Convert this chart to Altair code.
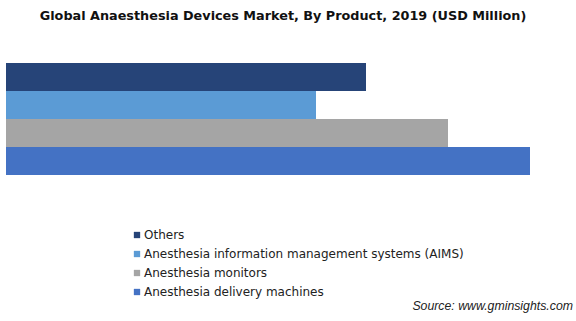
import altair as alt
import pandas as pd

title = "Global Anaesthesia Devices Market, By Product, 2019 (USD Million)"
source = "Source: www.gminsights.com"
products = [
    "Others",
    "Anesthesia information management systems (AIMS)",
    "Anesthesia monitors",
    "Anesthesia delivery machines",
]
values = [360, 310, 442, 524]
colors = ["#264478", "#5B9BD5", "#A5A5A5", "#4472C4"]

df = pd.DataFrame({"product": products, "value": values})

bars = alt.Chart(df).mark_bar().encode(
    y=alt.Y("product:N", sort=products, axis=None,
            scale=alt.Scale(paddingInner=0, paddingOuter=0)),
    x=alt.X("value:Q", axis=None, scale=alt.Scale(domain=[0, 560], nice=False)),
    color=alt.Color(
        "product:N",
        scale=alt.Scale(domain=products, range=colors),
        legend=alt.Legend(
            title=None,
            orient="none",
            legendX=125,
            legendY=166,
            symbolType="square",
            symbolSize=40,
            symbolStrokeWidth=0,
            labelFont="DejaVu Sans",
            labelFontSize=12,
            labelColor="#222222",
            labelOffset=1,
            labelLimit=500,
            rowPadding=7,
            padding=0,
        ),
    ),
)

src = alt.Chart(pd.DataFrame({"t": [source]})).mark_text(
    align="right", baseline="middle", font="Liberation Sans",
    fontStyle="italic", fontSize=12.3, color="#222222"
).encode(text="t:N", x=alt.value(567), y=alt.value(243))

chart = alt.layer(bars, src).properties(
    width=560,
    height=112,
    autosize=alt.AutoSizeParams(type="none"),
    padding={"left": 6, "top": 63, "right": 10, "bottom": 146},
    title=alt.TitleParams(
        title, font="DejaVu Sans", fontSize=12.8, fontWeight="bold",
        color="#111111", anchor="middle", frame="group", dx=-3,
        offset=30, baseline="alphabetic",
    ),
).configure_view(stroke=None)

chart.save("out.html", embed_options={"renderer": "svg", "actions": False})
